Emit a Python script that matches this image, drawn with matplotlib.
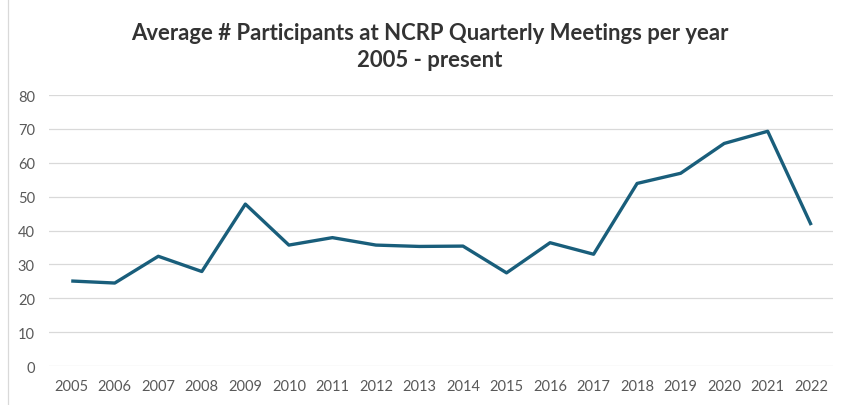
import matplotlib
matplotlib.use("Agg")
import matplotlib.pyplot as plt
from matplotlib.lines import Line2D

# data
years = [str(y) for y in range(2005, 2023)]
participants = [25.1, 24.5, 32.4, 27.9, 47.8, 35.7, 37.9, 35.7, 35.3, 35.4,
                27.5, 36.4, 33.0, 53.9, 56.9, 65.7, 69.3, 41.6]
yticks = [0, 10, 20, 30, 40, 50, 60, 70, 80]

plt.rcParams['font.family'] = ['Lato', 'DejaVu Sans']

fig = plt.figure(figsize=(8.5, 4.06), dpi=100)
ax = fig.add_axes([0.0582, 0.096, 0.9218, 0.6675])

x = list(range(len(years)))
ax.plot(x, participants, color='#195E7B', linewidth=2.4, solid_capstyle='butt', zorder=3)

ax.set_xlim(-0.5, len(years) - 0.5)
ax.set_ylim(0, 80)
ax.set_yticks(yticks)
ax.set_xticks(x)
ax.set_xticklabels(years)
ax.grid(axis='y', color='#D9D9D9', linewidth=0.9)
ax.set_axisbelow(True)
for s in ax.spines.values():
    s.set_visible(False)
ax.tick_params(length=0, colors='#595959', labelsize=10.5)
ax.tick_params(axis='y', pad=10.5)
ax.tick_params(axis='x', pad=9)

fig.text(0.506, 0.918, 'Average # Participants at NCRP Quarterly Meetings per year',
         ha='center', va='center', fontsize=15.9, fontweight='bold', color='#333333')
fig.text(0.506, 0.851, '2005 - present',
         ha='center', va='center', fontsize=15.9, fontweight='bold', color='#333333')

# chart frame edge on the left
fig.add_artist(Line2D([8 / 850, 8 / 850], [0, 1], transform=fig.transFigure,
                      color='#D9D9D9', linewidth=0.9))

fig.savefig('out.png', dpi=100)
